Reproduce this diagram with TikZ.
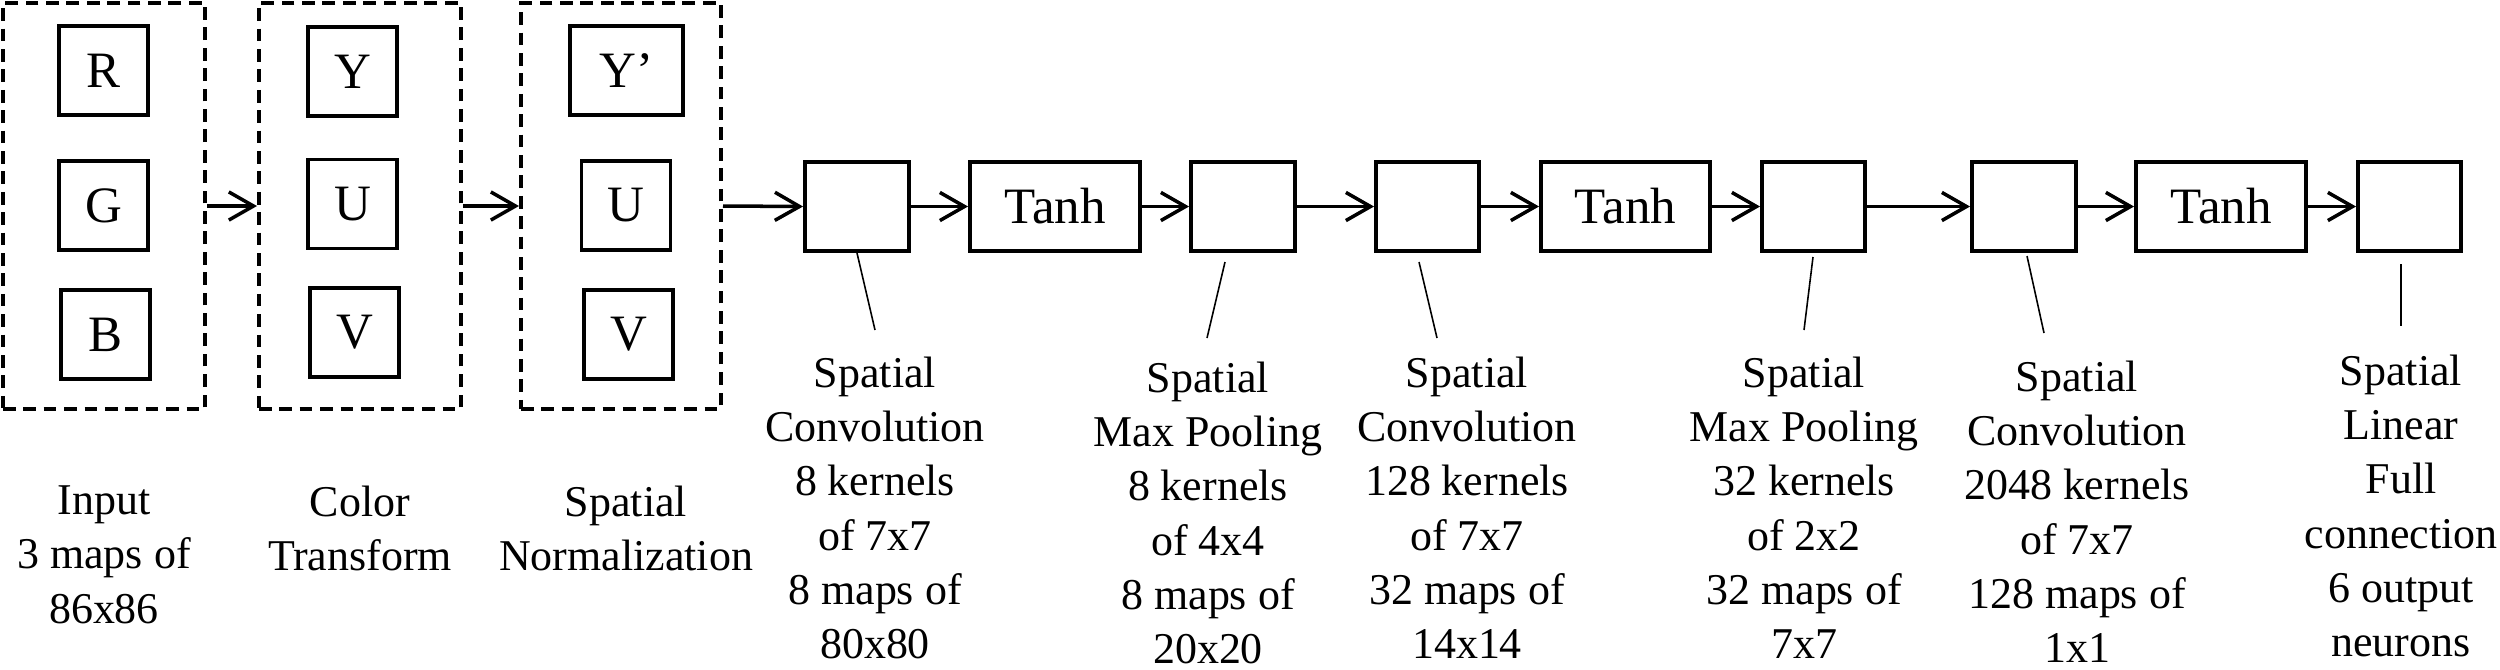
\documentclass[tikz,border=0pt]{standalone}
\usepackage{fontspec}
\setmainfont{Liberation Serif}
\usetikzlibrary{arrows.meta}
\begin{document}
\begin{tikzpicture}[x=0.01cm,y=-0.01cm,
  lbl/.style={align=center,inner sep=0pt,anchor=north,font=\fontsize{12.5}{15.45}\selectfont},
  chan/.style={draw,line width=1.1pt,inner sep=0pt,minimum width=0.89cm,minimum height=0.89cm,font=\fontsize{14.5}{17}\selectfont},
  grp/.style={draw,dash pattern=on 3.6pt off 2.2pt,line width=1.1pt,inner sep=0pt,minimum height=4.06cm},
  layer/.style={draw,line width=1.1pt,inner sep=0pt,minimum height=0.89cm,font=\fontsize{14.5}{17}\selectfont},
  arr/.style={line width=1pt,-{Straight Barb[length=7pt,width=8pt,line width=1pt]}},
  ptr/.style={line width=0.45pt}]
\useasboundingbox (0,0) rectangle (2500,669);
% dashed groups
\node[grp,minimum width=2.02cm] (d1) at (104,206) {};
\node[grp,minimum width=2.02cm] (d2) at (360,206) {};
\node[grp,minimum width=2.00cm] (d3) at (621,206) {};
% channels
\node[chan] (r) at (103.5,70.5) {R};
\node[chan] (g) at (103.5,205.5) {G};
\node[chan] (b) at (105.5,334.5) {B};
\node[chan] (y) at (352.5,71.5) {Y};
\node[chan] (u) at (352.5,204) {U};
\node[chan] (v) at (354.5,332.5) {V};
\node[chan,minimum width=1.13cm] (yp) at (626.5,70.5) {Y’};
\node[chan] (up) at (626,205.5) {U};
\node[chan] (vp) at (628.5,334.5) {V};
% layers
\node[layer,minimum width=1.04cm] (conv1) at (857,206.5) {};
\node[layer,minimum width=1.70cm] (tanh1) at (1055,206.5) {Tanh};
\node[layer,minimum width=1.04cm] (pool1) at (1243,206.5) {};
\node[layer,minimum width=1.03cm] (conv2) at (1427.5,206.5) {};
\node[layer,minimum width=1.69cm] (tanh2) at (1625.5,206.5) {Tanh};
\node[layer,minimum width=1.03cm] (pool2) at (1813.5,206.5) {};
\node[layer,minimum width=1.04cm] (conv3) at (2024,206.5) {};
\node[layer,minimum width=1.70cm] (tanh3) at (2221,206.5) {Tanh};
\node[layer,minimum width=1.03cm] (fin) at (2409.5,206.5) {};
% arrows
\draw[arr] (d1.east) -- (d2.west);
\draw[arr] (d2.east) -- (d3.west);
\draw[arr] (d3.east) -- (conv1.west);
\draw[arr] (conv1) -- (tanh1);
\draw[arr] (tanh1) -- (pool1);
\draw[arr] (pool1) -- (conv2);
\draw[arr] (conv2) -- (tanh2);
\draw[arr] (tanh2) -- (pool2);
\draw[arr] (pool2) -- (conv3);
\draw[arr] (conv3) -- (tanh3);
\draw[arr] (tanh3) -- (fin);
% labels
\node[lbl] (lin) at (104,485) {Input\\3 maps of\\86x86};
\node[lbl] (lcol) at (360,485) {Color\\Transform};
\node[lbl] (lnorm) at (626,485) {Spatial\\Normalization};
\node[lbl] (lc1) at (875,356) {Spatial\\Convolution\\8 kernels\\of 7x7\\8 maps of\\80x80};
\node[lbl] (lp1) at (1208,361) {Spatial\\Max Pooling\\8 kernels\\of 4x4\\8 maps of\\20x20};
\node[lbl] (lc2) at (1467,356) {Spatial\\Convolution\\128 kernels\\of 7x7\\32 maps of\\14x14};
\node[lbl] (lp2) at (1804,356) {Spatial\\Max Pooling\\32 kernels\\of 2x2\\32 maps of\\7x7};
\node[lbl] (lc3) at (2077,360) {Spatial\\Convolution\\2048 kernels\\of 7x7\\128 maps of\\1x1};
\node[lbl] (lfin) at (2401,354) {Spatial\\Linear\\Full\\connection\\6 output\\neurons};
% pointer lines
\coordinate (a1) at (857,253); \coordinate (b1) at (875,330);
\coordinate (a2) at (1225,262); \coordinate (b2) at (1207,338);
\coordinate (a3) at (1419,262); \coordinate (b3) at (1437,338);
\coordinate (a4) at (1813,257); \coordinate (b4) at (1804,330);
\coordinate (a5) at (2027,256); \coordinate (b5) at (2044,333);
\coordinate (a6) at (2401,264); \coordinate (b6) at (2401,326);
\draw[ptr] (a1) -- (b1);
\draw[ptr] (a2) -- (b2);
\draw[ptr] (a3) -- (b3);
\draw[ptr] (a4) -- (b4);
\draw[ptr] (a5) -- (b5);
\draw[ptr] (a6) -- (b6);
\end{tikzpicture}
\end{document}
